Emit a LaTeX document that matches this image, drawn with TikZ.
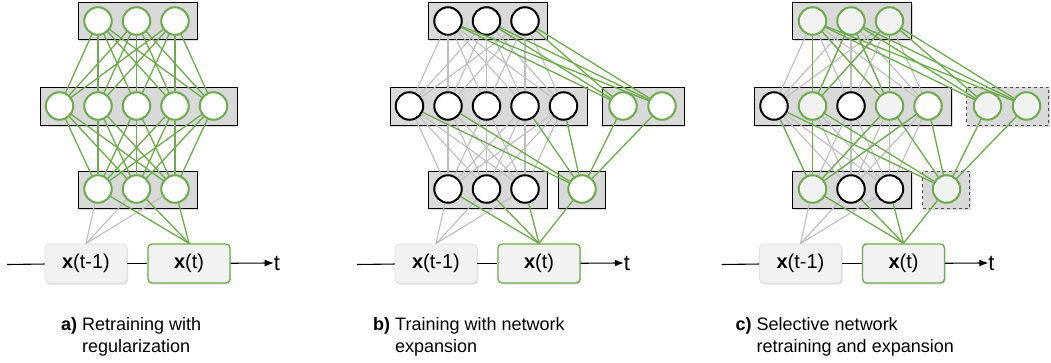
\documentclass[tikz,border=0pt]{standalone}
\usepackage{fontspec}
\setmainfont{Liberation Sans}
\usetikzlibrary{shadows,arrows.meta}

\definecolor{netgreen}{RGB}{108,170,76}
\definecolor{boxgray}{RGB}{217,217,217}
\definecolor{linkgray}{RGB}{190,190,190}
\definecolor{softfill}{RGB}{242,242,242}

\begin{document}
\begin{tikzpicture}[x=1pt,y=-1pt,
  layerbox/.style={draw=black, line width=0.8pt, fill=boxgray, inner sep=0,
    drop shadow={opacity=0.3, shadow xshift=1.2pt, shadow yshift=-1.5pt}},
  newbox/.style={layerbox, draw=black!70, dashed},
  unit/.style={circle, draw=black, line width=2pt, fill=white, minimum size=27.5pt, inner sep=0},
  gunit/.style={unit, draw=netgreen},
  gsunit/.style={gunit, fill=softfill},
  inbox/.style={rounded corners=4pt, fill=softfill, draw=black!12, line width=0.8pt,
    minimum width=82pt, minimum height=39pt, inner sep=0, font=\fontsize{20}{20}\selectfont,
    drop shadow={opacity=0.25, shadow xshift=1pt, shadow yshift=-1.5pt}},
  curbox/.style={inbox, draw=netgreen, line width=1.3pt},
  oldlink/.style={draw=linkgray, line width=1.1pt},
  newlink/.style={draw=netgreen, line width=1.3pt},
  timeline/.style={draw=black, line width=1.1pt},
  tlabel/.style={inner sep=0, font=\fontsize{22}{22}\selectfont},
  caption/.style={inner sep=0, anchor=base west, font=\fontsize{18}{22}\selectfont}
]
\useasboundingbox (0,0) rectangle (1051,362);

% a) retraining with regularization
\node[layerbox, minimum width=119pt, minimum height=37pt] (a-top) at (137.5,20.5) {};
\node[layerbox, minimum width=197pt, minimum height=38pt] (a-mid) at (138.5,106) {};
\node[layerbox, minimum width=119pt, minimum height=37pt] (a-bot) at (137.5,189.5) {};
\foreach \i/\x in {1/98,2/136.5,3/175} \node[gunit] (a-t\i) at (\x,21) {};
\foreach \i/\x in {1/59.5,2/98,3/136.5,4/175,5/213.5} \node[gunit] (a-m\i) at (\x,106) {};
\foreach \i/\x in {1/98,2/136.5,3/175} \node[gunit] (a-b\i) at (\x,189) {};
\node[inbox] (a-xp) at (86,263.5) {\textbf{x}(t-1)};
\node[curbox] (a-xc) at (189,263.5) {\textbf{x}(t)};
\coordinate (a-start) at (7,264.5);
\node[tlabel] (a-t) at (277,263) {t};
\draw[timeline] (a-start) -- (a-xp);
\draw[timeline] (a-xp) -- (a-xc);
\draw[timeline, -{Latex[length=9pt,width=7pt]}] (a-xc) -- (a-t.west -| 270,0) |- (a-t.west);
\foreach \k in {1,2,3} \draw[oldlink] (a-b\k) -- (a-xp.north);
\foreach \i in {1,2,3} \foreach \j in {1,...,5} \draw[newlink] (a-t\i) -- (a-m\j);
\foreach \j in {1,...,5} \foreach \k in {1,2,3} \draw[newlink] (a-m\j) -- (a-b\k);
\foreach \k in {1,2,3} \draw[newlink] (a-b\k) -- (a-xc.north);
\node[caption] (a-cap) at (61,330) {\textbf{a)} \begin{tabular}[t]{@{}l@{}}Retraining with\\regularization\end{tabular}};

% b) training with network expansion
\begin{scope}[xshift=350pt]
\node[layerbox, minimum width=119pt, minimum height=37pt] (b-top) at (137.5,20.5) {};
\node[layerbox, minimum width=197pt, minimum height=38pt] (b-mid) at (138.5,106) {};
\node[layerbox, minimum width=82pt, minimum height=38pt] (b-newmid) at (293,106) {};
\node[layerbox, minimum width=119pt, minimum height=37pt] (b-bot) at (137.5,189.5) {};
\node[layerbox, minimum width=47pt, minimum height=37pt] (b-newbot) at (231.5,189.5) {};
\foreach \i/\x in {1/98,2/136.5,3/175} \node[unit] (b-t\i) at (\x,21) {};
\foreach \i/\x in {1/59.5,2/98,3/136.5,4/175,5/213.5} \node[unit] (b-m\i) at (\x,106) {};
\foreach \i/\x in {1/273,2/312} \node[gunit] (b-n\i) at (\x,106) {};
\foreach \i/\x in {1/98,2/136.5,3/175} \node[unit] (b-b\i) at (\x,189) {};
\node[gunit] (b-nb) at (232,189) {};
\node[inbox] (b-xp) at (86,263.5) {\textbf{x}(t-1)};
\node[curbox] (b-xc) at (189,263.5) {\textbf{x}(t)};
\coordinate (b-start) at (7,264.5);
\node[tlabel] (b-t) at (277,263) {t};
\draw[timeline] (b-start) -- (b-xp);
\draw[timeline] (b-xp) -- (b-xc);
\draw[timeline, -{Latex[length=9pt,width=7pt]}] (b-xc) -- (b-t.west -| 270,0) |- (b-t.west);
\foreach \i in {1,2,3} \foreach \j in {1,...,5} \draw[oldlink] (b-t\i) -- (b-m\j);
\foreach \j in {1,...,5} \foreach \k in {1,2,3} \draw[oldlink] (b-m\j) -- (b-b\k);
\foreach \k in {1,2,3} \draw[oldlink] (b-b\k) -- (b-xp.north);
\foreach \i in {1,2,3} \foreach \j in {1,2} \draw[newlink] (b-t\i) -- (b-n\j);
\foreach \j in {1,2,4,5} \draw[newlink] (b-m\j) -- (b-nb);
\foreach \j in {1,2} \draw[newlink] (b-n\j) -- (b-nb);
\foreach \k in {1,2,3} \draw[newlink] (b-b\k) -- (b-xc.north);
\draw[newlink] (b-nb) -- (b-xc.north);
\node[caption] (b-cap) at (23,330) {\textbf{b)} \begin{tabular}[t]{@{}l@{}}Training with network\\expansion\end{tabular}};
\end{scope}

% c) selective network retraining and expansion
\begin{scope}[xshift=714.5pt]
\node[layerbox, minimum width=119pt, minimum height=37pt] (c-top) at (137.5,20.5) {};
\node[layerbox, minimum width=197pt, minimum height=38pt] (c-mid) at (138.5,106) {};
\node[newbox, minimum width=82pt, minimum height=38pt] (c-newmid) at (293,106) {};
\node[layerbox, minimum width=119pt, minimum height=37pt] (c-bot) at (137.5,189.5) {};
\node[newbox, minimum width=47pt, minimum height=37pt] (c-newbot) at (231.5,189.5) {};
\foreach \i/\x in {1/98,2/136.5,3/175} \node[gsunit] (c-t\i) at (\x,21) {};
\node[unit] (c-m1) at (59.5,106) {};
\node[gsunit] (c-m2) at (98,106) {};
\node[unit] (c-m3) at (136.5,106) {};
\node[gsunit] (c-m4) at (175,106) {};
\node[gunit] (c-m5) at (213.5,106) {};
\foreach \i/\x in {1/273,2/312} \node[gsunit] (c-n\i) at (\x,106) {};
\node[gsunit] (c-b1) at (98,189) {};
\node[unit] (c-b2) at (136.5,189) {};
\node[unit] (c-b3) at (175,189) {};
\node[gsunit] (c-nb) at (232,189) {};
\node[inbox] (c-xp) at (86,263.5) {\textbf{x}(t-1)};
\node[curbox] (c-xc) at (189,263.5) {\textbf{x}(t)};
\coordinate (c-start) at (7,264.5);
\node[tlabel] (c-t) at (277,263) {t};
\draw[timeline] (c-start) -- (c-xp);
\draw[timeline] (c-xp) -- (c-xc);
\draw[timeline, -{Latex[length=9pt,width=7pt]}] (c-xc) -- (c-t.west -| 270,0) |- (c-t.west);
\foreach \i in {1,2,3} \foreach \j in {1,...,5} \draw[oldlink] (c-t\i) -- (c-m\j);
\foreach \j in {1,...,5} \foreach \k in {1,2,3} \draw[oldlink] (c-m\j) -- (c-b\k);
\foreach \k in {1,2,3} \draw[oldlink] (c-b\k) -- (c-xp.north);
\foreach \i in {1,2,3} \foreach \j in {2,4} \draw[newlink] (c-t\i) -- (c-m\j);
\foreach \i in {1,2,3} \foreach \j in {1,2} \draw[newlink] (c-t\i) -- (c-n\j);
\foreach \j in {1,2,4,5} \draw[newlink] (c-m\j) -- (c-b1);
\foreach \j in {1,2,4,5} \draw[newlink] (c-m\j) -- (c-nb);
\foreach \j in {1,2} \draw[newlink] (c-n\j) -- (c-nb);
\foreach \k in {1,2,3} \draw[newlink] (c-b\k) -- (c-xc.north);
\draw[newlink] (c-nb) -- (c-xc.north);
\node[caption] (c-cap) at (21,330) {\textbf{c)} \begin{tabular}[t]{@{}l@{}}Selective network\\retraining and expansion\end{tabular}};
\end{scope}
\end{tikzpicture}
\end{document}
